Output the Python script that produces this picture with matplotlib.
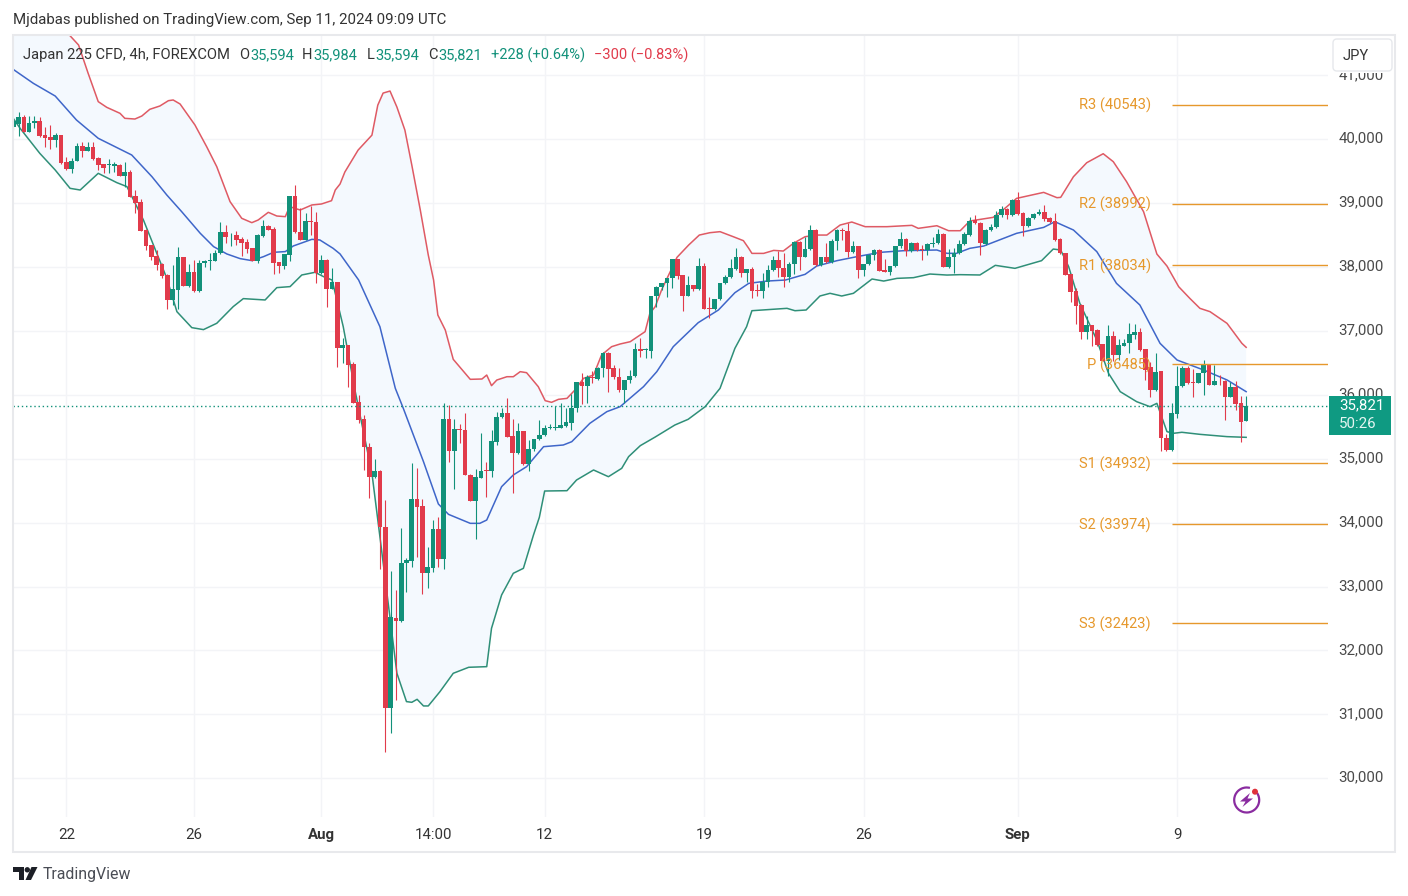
# Japan 225 CFD, 4h candles with Bollinger bands and pivot levels

# Loading the libraries_________________________________________________________________________________________________
from numpy import array, arange, concatenate
import matplotlib.pyplot as plt
from matplotlib.patches import Rectangle, FancyBboxPatch, Circle, Polygon, Arc
from matplotlib.transforms import ScaledTranslation

# Typing the data_______________________________________________________________________________________________________

# 4h candles, oldest first---------------------------------------------------------------------------------------------
opens = [40200,40240,40355,40120,40250,40287,40063,40030,39985,40063,
         39645,39536,39666,39896,39823,39875,39708,39609,39604,39588,
         39604,39432,39489,39118,39020,38581,38341,38180,38050,37877,
         37486,37643,38154,37705,37924,37627,38060,38095,38101,38216,
         38550,38500,38498,38435,38394,38300,38100,38488,38639,38597,
         38080,38018,38195,39113,38550,38425,38717,38707,37903,38112,
         37663,37761,36734,36776,36484,35889,35618,35180,34710,34815,
         33938,31095,32509,32467,33375,33406,34366,34262,33218,33291,
         33896,33437,35618,35127,35461,35450,34752,34345,34700,34820,
         34815,35263,35649,35712,35357,35086,35430,34919,35148,35305,
         35367,35477,35477,35488,35519,35565,35790,36197,36139,36285,
         36243,36416,36661,36416,36285,36077,36233,36296,36713,36703,
         36692,37548,37694,37746,37824,38127,37876,37553,37715,37652,
         38017,37360,37350,37496,37746,37840,37965,38163,37913,37965,
         37641,37631,37772,37955,38111,37981,37850,38043,38398,38163,
         38278,38581,38033,38153,38080,38408,38581,38565,38241,38330,
         37955,38049,38189,38268,37955,37929,38017,38330,38434,38257,
         38382,38278,38268,38361,38372,38518,38000,38153,38215,38362,
         38503,38737,38695,38362,38581,38622,38815,38904,38815,39050,
         38842,38643,38763,38831,38862,38763,38721,38435,38216,37887,
         37626,37407,36990,37089,37016,36792,36536,36922,36625,36766,
         36807,36943,36985,36713,36432,36077,36374,35321,35138,35702,
         36145,36426,36202,36192,36337,36463,36150,36225,36215,35973,
         36119,35868,35594]
highs = [40330,40423,40381,40365,40365,40344,40198,40225,40105,40070,
         39729,39703,39948,39964,39964,39953,39729,39615,39687,39651,
         39615,39645,39520,39207,39061,38590,38350,38268,38060,37885,
         38034,38310,38160,38050,38112,38112,38112,38216,38268,38712,
         38660,38530,38560,38467,38435,38305,38519,38738,38655,38634,
         38085,38210,39120,39285,38920,38842,38957,38868,38185,38120,
         37980,37770,36885,36780,36520,35998,35686,35252,34992,34820,
         34355,33244,32947,33912,33443,34929,34861,34366,33625,34042,
         34084,35868,35837,35618,35545,35711,34755,34835,35409,34955,
         35451,35738,35790,35951,35618,35565,35435,35294,35310,35607,
         35524,35545,35826,35868,35800,36014,36205,36348,36311,36379,
         36431,36676,36665,36468,36426,36240,36389,36807,36885,36729,
         37552,37700,37750,37830,38135,38130,37880,37861,37720,38137,
         38070,37527,37500,37750,37877,38122,38294,38174,37970,37996,
         37735,37902,38033,38174,38257,38215,38085,38405,38405,38476,
         38659,38590,38160,38372,38434,38590,38607,38695,38408,38335,
         38055,38205,38278,38278,38122,38020,38335,38554,38450,38398,
         38392,38346,38372,38466,38591,38528,38278,38294,38424,38550,
         38790,38815,38700,38590,38670,38880,38960,38925,39060,39170,
         38860,38790,38850,38915,38967,38790,38853,38450,38220,37900,
         37680,37430,37240,37100,37030,36800,37100,37000,36880,36880,
         37130,37110,37040,36720,36510,36660,36380,35395,35870,36460,
         36450,36460,36400,36345,36545,36470,36475,36310,36230,36200,
         36210,35990,35984]
lows = [40150,40058,40110,40110,40172,40040,39875,39843,39885,39620,
        39520,39468,39660,39729,39820,39677,39520,39478,39468,39494,
        39420,39260,39095,38842,38560,38268,38112,37956,37825,37350,
        37408,37350,37700,37695,37617,37617,37997,37955,38100,38205,
        38373,38331,38347,38175,38227,38095,38070,38477,38580,37893,
        37904,37966,38101,38540,38420,38420,38503,37757,37898,37380,
        37655,36442,36494,36129,35875,35555,34825,34382,34700,33270,
        30407,30704,31226,32450,32921,33302,33458,32879,32973,33234,
        33302,33270,34955,34522,35252,34750,34340,33740,34695,34397,
        34720,35216,35640,35340,34460,35075,34898,34815,35127,35294,
        35357,35461,35450,35477,35503,35451,35738,35859,35878,36180,
        36233,36275,36051,36243,36051,35868,36181,36285,36599,36572,
        36583,37381,37642,37527,37668,37809,37318,37550,37631,37642,
        37345,37198,37330,37485,37735,37824,37960,37850,37772,37511,
        37548,37511,37694,37945,37850,37694,37772,37887,37955,38153,
        38268,38017,38017,38070,38070,38268,38424,38163,38226,37824,
        37861,38033,38111,37940,37925,37876,38000,38294,38174,38241,
        38257,38111,38189,38320,38361,37995,37980,37903,38205,38350,
        38490,38680,38190,38340,38570,38610,38790,38750,38800,38820,
        38480,38630,38750,38820,38720,38690,38415,38200,37870,37450,
        37115,36880,36880,36760,36770,36530,36290,36530,36550,36760,
        36650,36880,36690,36240,35970,36060,35130,35130,35120,35640,
        36120,36170,35970,36180,36000,36150,36150,36150,35610,35960,
        35770,35270,35594]
closes = [40280,40344,40120,40250,40287,40058,40026,39985,40063,39635,
          39536,39666,39896,39823,39875,39698,39604,39552,39615,39609,
          39432,39489,39103,39004,38571,38331,38164,38034,37861,37486,
          37653,38154,37705,37924,37627,38060,38097,38107,38216,38550,
          38477,38510,38425,38383,38289,38100,38498,38644,38587,38070,
          38018,38206,39113,38550,38425,38717,38707,37903,38112,37663,
          37762,36739,36776,36473,35879,35607,35180,34710,34815,33938,
          31095,32519,32467,33375,33417,34366,34251,33218,33302,33896,
          33437,35618,35127,35461,35450,34752,34345,34710,34815,34810,
          35273,35649,35712,35346,35086,35430,34919,35148,35305,35367,
          35477,35498,35498,35529,35571,35790,36197,36139,36285,36270,
          36416,36661,36411,36285,36077,36233,36301,36713,36692,36718,
          37548,37694,37746,37824,38127,37866,37553,37715,37652,38017,
          37350,37350,37496,37746,37840,37981,38153,37913,37965,37631,
          37631,37772,37955,38111,37981,37850,38043,38398,38163,38278,
          38581,38033,38153,38080,38408,38581,38570,38241,38330,37955,
          38049,38189,38268,37944,37929,38017,38330,38434,38257,38382,
          38268,38268,38361,38382,38518,38000,38153,38215,38362,38518,
          38722,38695,38372,38581,38633,38815,38904,38815,39050,38831,
          38643,38763,38831,38862,38753,38711,38424,38216,37877,37616,
          37397,36990,37089,37005,36781,36536,36922,36625,36776,36818,
          36953,36985,36703,36390,36077,36364,35321,35138,35712,36145,
          36416,36181,36192,36337,36463,36160,36213,36215,35973,36119,
          35858,35581,35821]

upperBar = [0,5,8,10.4,12.3,14.1,16,17.6,20.1,21,22.9,24.2,25.7,27.6,29.2,30.1,31.4,34.2,36.4,38.3,40.8,43,44.9,46.1,
            48,49.6,51.2,52,54,56.2,58,59.9,60.6,61.5,62.4,64.9,67.5,68.6,69.6,70.9,72.2,73.7,75,76.6,78.1,79.1,79.9,
            81.3,82.8,86,88.2,89.1,90,91,92.9,94.1,95.4,96.6,98.8,100.1,101.3,102.6,104.2,105.7,107.3,109.2,110.7,
            112.6,114.2,116.1,118.9,119.8,120.8,122,124.9,127.1,129.1,131.1,133,135.5,137.4,138.4,139,141.2,143.1,
            144.9,146.8,149,151.2,153.1,155.6,157.8,160.3,164.4,169.1,170.3,173.8,176,178.2,180,184.4,186.6,188.8,
            193.9,196.4,197.1,199.5,202,205.1,207,209.5,212.7,215.2,217.1,219.3,221.4,223.3,225.2,228.4,231.2,232]
upperBand = [43200,42500,42000,41648,41476,41033,40590,40501,40407,40329,40318,40365,40470,40522,40605,40616,40553,
             40224,39885,39572,39025,38764,38696,38738,38858,38800,38790,38947,38894,38973,38988,39040,39207,39301,
             39488,39832,40066,40535,40724,40756,40505,40145,39598,38894,38190,37798,37250,37016,36557,36244,36249,
             36311,36145,36233,36285,36285,36364,36348,36129,35910,35884,35931,35946,36077,36259,36311,36624,36755,
             36797,36833,36990,37277,37381,37642,38153,38346,38502,38539,38555,38476,38414,38294,38215,38215,38262,
             38252,38372,38476,38502,38502,38659,38706,38633,38633,38654,38607,38648,38570,38570,38722,38779,38920,
             39076,39170,39087,39092,39415,39634,39775,39650,39337,38867,38205,38017,37694,37511,37355,37303,37120,
             36807,36745]
middleBar = [0,3.8,7.9,11.9,16,22.3,26.1,28.9,31.7,35.2,37.7,40.2,42.7,44.9,47.1,49,51.2,52.7,56.2,57.7,60.2,61.5,65,
             69,71.9,73.4,77.2,80,81.9,86,87.8,89.1,91.9,94.1,96.6,99.8,103.5,105.1,108.5,111.7,114.2,118.6,121.1,
             124.2,128.9,132.7,135.8,138.4,141.8,145.3,149,151.2,155,158.7,163.1,167.5,173.8,175.7,177.5,180,182.6,
             188.8,193.9,196,199.5,203.9,207.6,212,215.8,219,224,228.4,232]
middleBand = [41095,40876,40678,40303,40016,39755,39416,39129,38868,38529,38321,38206,38133,38102,38164,38232,38243,
              38331,38435,38425,38294,38206,37798,37068,36103,35790,34955,34293,34131,33990,33990,34042,34564,34747,
              34877,35190,35216,35268,35555,35738,35816,36129,36364,36755,37131,37329,37600,37746,37782,37798,37887,
              38017,38101,38163,38231,38257,38268,38216,38216,38294,38330,38529,38622,38711,38581,38242,37746,37407,
              36807,36546,36390,36234,36051]
lowerBar = [0,1.3,5,7.9,10.7,12.6,16,19.5,21.4,24.5,28.9,30.8,33.6,35.8,38.3,41.4,43.3,47.4,49.6,52.1,54.3,56.8,58.4,
            60,62.1,64.3,67.5,69,72.2,74,75,76,77.2,78.1,80.3,82.8,85.7,89.1,90,91.9,94.1,96,97.9,99,100,104.2,106,
            109.2,112,114.5,115.8,118,120.8,124.5,127,130.2,133,135.8,138,139,145.6,147.1,149.2,151.8,153.7,155.9,
            158.1,161.6,163.8,166.3,169.4,172.5,175.7,178.2,181.9,184.8,188.5,193.5,195.7,197.1,198.6,200.7,203.9,
            206.1,208.3,211.4,213.9,215.2,217.1,218.3,219.9,223.3,228.4,232]
lowerBand = [40329,40172,39781,39520,39233,39207,39468,39322,39260,38738,37825,37303,37053,37022,37121,37382,37507,
             37486,37679,37695,37877,37919,37851,37798,37068,36077,34773,33782,31643,31200,31189,31236,31132,31132,
             31356,31643,31737,31747,32347,32869,33208,33286,33808,34084,34496,34501,34668,34825,34720,34851,35034,
             35206,35341,35529,35618,35816,36103,36729,37068,37318,37355,37318,37329,37548,37590,37548,37590,37814,
             37782,37824,37835,37892,37876,37882,37877,38028,37981,38101,38283,38268,38007,37433,36859,36338,36051,
             35894,35816,35868,35425,35399,35415,35383,35347,35336]

# Pivot levels and axis labels-----------------------------------------------------------------------------------------
pivotNames = ["R3", "R2", "R1", "P", "S1", "S2", "S3"]
pivotLevels = [40543, 38992, 38034, 36485, 34932, 33974, 32423]
lastPrice = 35821
priceTicks = [30000, 31000, 32000, 33000, 34000, 35000, 36000, 37000, 38000, 39000, 40000, 41000]
timeTicks = [10, 34, 58, 79, 100, 130, 160, 189, 219]
timeLabels = ["22", "26", "Aug", "14:00", "12", "19", "26", "Sep", "9"]

# Colours
green = '#12917a'
red = '#e13b4b'
orange = '#e6982c'
gridColour = '#f3f4f7'

plt.rcParams['font.family'] = ['Roboto', 'DejaVu Sans']

# Drawing the chart_____________________________________________________________________________________________________
plt.figure(1, figsize=(14.08, 8.96), dpi=100)
plt.axes([13/1408, 1-817/896, 1315/1408, 782/896])
plt.xlim(-0.04, 247.4)
plt.ylim(29394, 41633)
plt.box(False)
plt.grid(color=gridColour, linewidth=1)
plt.gca().set_axisbelow(True)

# the bands-------------------------------------------------------------------------------------------------------------
plt.fill(concatenate((upperBar, lowerBar[::-1])), concatenate((upperBand, lowerBand[::-1])), color='#f4f9fe', zorder=1,
         linewidth=0)
plt.plot(upperBar, upperBand, color='#df5a64', linewidth=1.1, zorder=2)
plt.plot(middleBar, middleBand, color='#3f66c9', linewidth=1.1, zorder=2)
plt.plot(lowerBar, lowerBand, color='#2f8f78', linewidth=1.1, zorder=2)

# the candles-----------------------------------------------------------------------------------------------------------
bars = arange(len(opens))
o = array(opens)
c = array(closes)
colours = [green if c[i] >= o[i] else red for i in bars]
plt.vlines(bars, lows, highs, colors=colours, linewidth=0.8, zorder=3)
plt.bar(bars, abs(c-o), bottom=[min(o[i], c[i]) for i in bars], width=0.88, color=colours, zorder=4)

# the pivot levels------------------------------------------------------------------------------------------------------
plt.hlines(pivotLevels, 218.06, 247.4, colors=orange, linewidth=1, zorder=5)
for i in range(len(pivotNames)):
    plt.text(214.1, pivotLevels[i]-15, "%s (%d)" % (pivotNames[i], pivotLevels[i]), color=orange, fontsize=10.5,
             ha='right', va='center', zorder=6)
plt.axhline(lastPrice, color=green, linewidth=1, linestyle=(0, (1, 2)), zorder=5)

# the axes--------------------------------------------------------------------------------------------------------------
plt.gca().yaxis.tick_right()
plt.yticks(priceTicks, ["{:,}".format(p) for p in priceTicks], fontsize=10.8, color='#4a4a4a')
plt.xticks(timeTicks, timeLabels, fontsize=10.8, color='#333333')
plt.tick_params(axis='both', length=0)
plt.tick_params(axis='y', pad=7.5)
plt.tick_params(axis='x', pad=8)
for label in plt.gca().get_xticklabels():
    if label.get_text() in ("Aug", "Sep"):
        label.set_fontweight('bold')
# the price labels sit a little above their grid lines
for label in plt.gca().get_yticklabels():
    label.set_transform(label.get_transform() + ScaledTranslation(0, 1.5/72, plt.gcf().dpi_scale_trans))

# Everything around the chart, in pixels of the picture_________________________________________________________________
plt.axes([0, 0, 1, 1], facecolor='none')
plt.xlim(0, 1408)
plt.ylim(896, 0)
plt.axis('off')
ax = plt.gca()

ax.add_patch(Rectangle((13, 35), 1382, 817, fill=False, edgecolor='#e8e9ec', linewidth=1.5))
ax.add_patch(Rectangle((1330, 37), 63, 36, facecolor='white', edgecolor='none'))
ax.add_patch(FancyBboxPatch((1336, 42), 53, 26, boxstyle="round,pad=3,rounding_size=4", facecolor='white',
                            edgecolor='#e6e8ec', linewidth=1))
plt.text(1356, 55.5, "JPY", fontsize=10.5, color='#333333', ha='center', va='center')

ax.add_patch(Rectangle((1329, 396), 62, 39, facecolor='#0f9a82', edgecolor='none'))
plt.text(1362, 405.5, "35,821", fontsize=10.8, color='white', ha='center', va='center')
plt.text(1358, 424, "50:26", fontsize=10.8, color='#e4f5f1', ha='center', va='center')

plt.text(13, 20, "Mjdabas published on TradingView.com, Sep 11, 2024 09:09 UTC", fontsize=10.8, color='#333333',
         va='center')
plt.text(23, 55, "Japan 225 CFD, 4h, FOREXCOM", fontsize=10.65, color='#333333', va='center')

# the values of the last candle
headerText = [(239, "O", '#333333'), (250, "35,594", green), (302, "H", '#333333'), (313, "35,984", green),
              (367, "L", '#333333'), (375, "35,594", green), (428, "C", '#333333'), (438, "35,821", green),
              (491, "+228 (+0.64%)", green), (594, "\u2212300 (\u22120.83%)", red)]
for x, s, col in headerText:
    plt.text(x, 55, s, fontsize=10.5, color=col, va='center')

# the logo
ax.add_patch(Polygon([(13, 867), (24, 867), (24, 880), (18.5, 880), (18.5, 872.5), (13, 872.5)], facecolor='#1c1f26',
                     edgecolor='none'))
ax.add_patch(Circle((27.3, 869.8), 2.7, facecolor='#1c1f26', edgecolor='none'))
ax.add_patch(Polygon([(31.5, 867), (37.5, 867), (31, 880), (25.5, 880)], facecolor='#1c1f26', edgecolor='none'))
plt.text(42.5, 875, "TradingView", fontsize=11.4, color='#4a4d55', va='center')

# the lightning icon
ax.add_patch(Arc((1246.7, 800), 25, 25, theta1=-35, theta2=285, color='#8a2ca0', linewidth=1.6))
ax.add_patch(Polygon([(1250, 793), (1240, 801.5), (1245.5, 801.5), (1242.5, 807), (1253, 798.5), (1247.5, 798.5)],
                     facecolor='#8a2ca0', edgecolor='none'))
ax.add_patch(Circle((1255, 791.7), 3, facecolor='#e0323c', edgecolor='none'))

plt.savefig('out.png', dpi=100)
